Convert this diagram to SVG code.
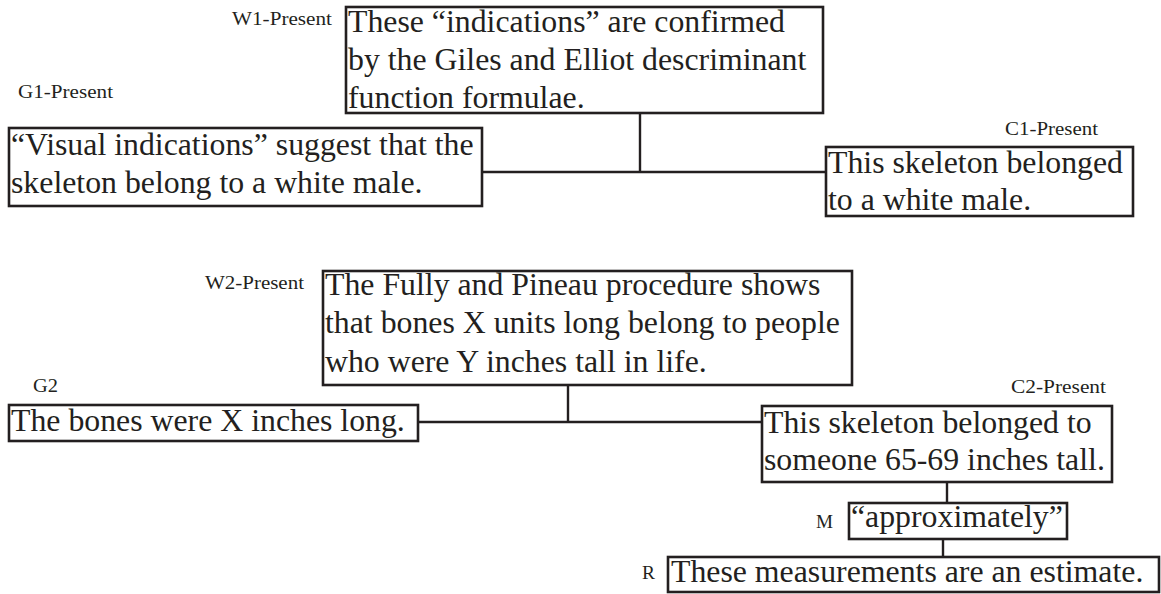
<svg xmlns="http://www.w3.org/2000/svg" width="1161" height="594" viewBox="0 0 1161 594">
  <style>
    .box { fill: #ffffff; stroke: #231f20; stroke-width: 2.6; }
    .txt { font-family: "Liberation Serif", "Times New Roman", serif; font-size: 31.8px; fill: #231f20; }
    .lbl { font-family: "Liberation Serif", "Times New Roman", serif; font-size: 18.5px; fill: #231f20; }
    .wire { fill: none; stroke: #231f20; stroke-width: 2.4; }
  </style>
  <rect width="1161" height="594" fill="#ffffff"/>

  <!-- connectors -->
  <g id="connectors">
    <path class="wire" d="M640 113 V172 M482 172 H826"/>
    <path class="wire" d="M568 385 V422 M418 422 H762"/>
    <path class="wire" d="M947 482 V503"/>
    <path class="wire" d="M943 539 V557"/>
  </g>

  <!-- argument 1 -->
  <g id="W1">
    <text class="lbl" x="232" y="25" textLength="100" lengthAdjust="spacingAndGlyphs">W1-Present</text>
    <rect class="box" x="346" y="7" width="477" height="106"/>
    <text class="txt" x="348" y="32">These “indications” are confirmed</text>
    <text class="txt" x="348" y="70">by the Giles and Elliot descriminant</text>
    <text class="txt" x="348" y="108">function formulae.</text>
  </g>
  <g id="G1">
    <text class="lbl" x="18" y="98" textLength="95" lengthAdjust="spacingAndGlyphs">G1-Present</text>
    <rect class="box" x="9" y="128" width="473" height="78"/>
    <text class="txt" x="11" y="155">“Visual indications” suggest that the</text>
    <text class="txt" x="11" y="193">skeleton belong to a white male.</text>
  </g>
  <g id="C1">
    <text class="lbl" x="1005" y="135" textLength="93" lengthAdjust="spacingAndGlyphs">C1-Present</text>
    <rect class="box" x="826" y="147" width="307" height="69"/>
    <text class="txt" x="828" y="173">This skeleton belonged</text>
    <text class="txt" x="828" y="210">to a white male.</text>
  </g>

  <!-- argument 2 -->
  <g id="W2">
    <text class="lbl" x="205" y="289" textLength="99" lengthAdjust="spacingAndGlyphs">W2-Present</text>
    <rect class="box" x="323" y="271" width="529" height="114"/>
    <text class="txt" x="325" y="295">The Fully and Pineau procedure shows</text>
    <text class="txt" x="325" y="333">that bones X units long belong to people</text>
    <text class="txt" x="325" y="372">who were Y inches tall in life.</text>
  </g>
  <g id="G2">
    <text class="lbl" x="33" y="392" textLength="25" lengthAdjust="spacingAndGlyphs">G2</text>
    <rect class="box" x="9" y="405" width="409" height="36"/>
    <text class="txt" x="11" y="431">The bones were X inches long.</text>
  </g>
  <g id="C2">
    <text class="lbl" x="1011" y="393" textLength="95" lengthAdjust="spacingAndGlyphs">C2-Present</text>
    <rect class="box" x="762" y="406" width="350" height="76"/>
    <text class="txt" x="764" y="433">This skeleton belonged to</text>
    <text class="txt" x="764" y="470">someone 65-69 inches tall.</text>
  </g>
  <g id="M">
    <text class="lbl" x="816" y="528" textLength="17" lengthAdjust="spacingAndGlyphs">M</text>
    <rect class="box" x="849" y="503" width="218" height="36"/>
    <text class="txt" x="851" y="527">“approximately”</text>
  </g>
  <g id="R">
    <text class="lbl" x="642" y="579" textLength="13" lengthAdjust="spacingAndGlyphs">R</text>
    <rect class="box" x="668" y="557" width="491" height="35"/>
    <text class="txt" x="671" y="582">These measurements are an estimate.</text>
  </g>
</svg>
